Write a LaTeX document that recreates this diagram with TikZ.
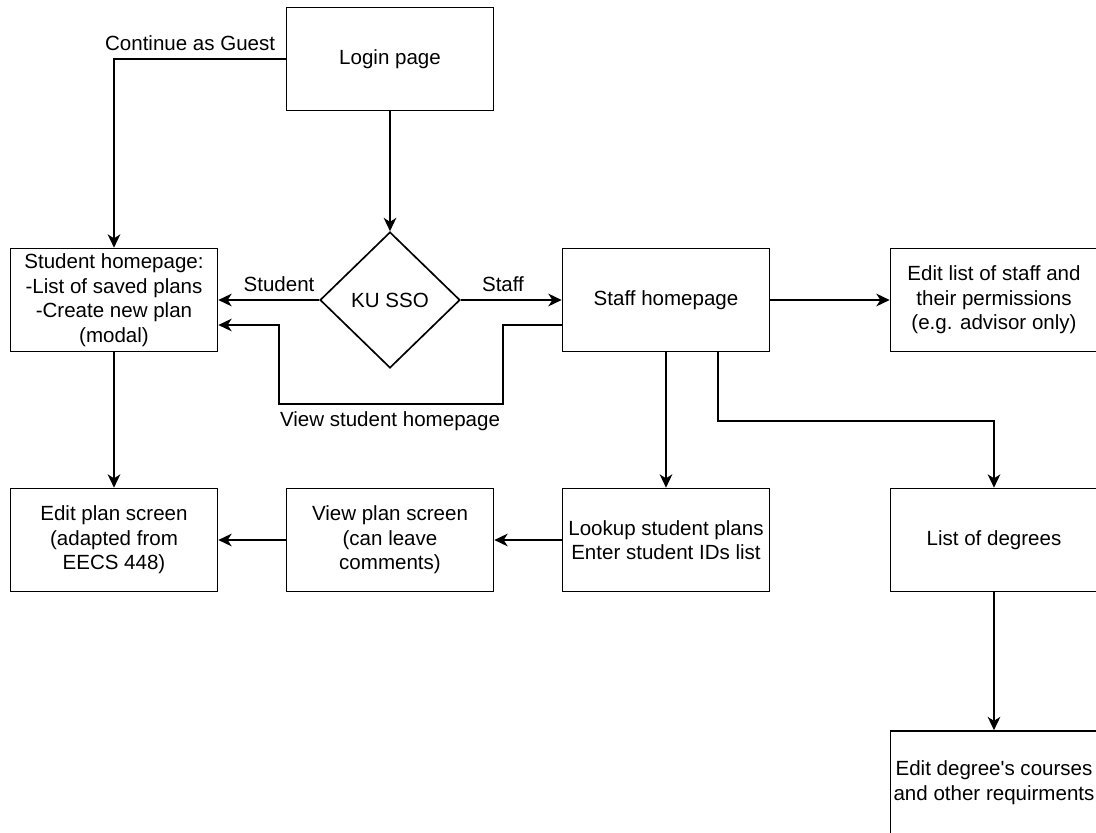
\documentclass[tikz,border=0pt]{standalone}
\usepackage{fontspec}
\setmainfont{Liberation Sans}
\usetikzlibrary{arrows.meta}
\usetikzlibrary{positioning, shapes.geometric}
\tikzset{
screen box/.style = { rectangle, draw = black, fill = white, line width = 1.25pt, minimum width = 155.25pt, minimum height = 77.25pt, inner sep = 0pt, align = center },
choice box/.style = { diamond, draw = black, fill = white, line width = 1.25pt, minimum width = 105pt, minimum height = 102pt, inner sep = 0pt },
flow label/.style = { draw = none, fill = none, inner sep = 0pt },
}

\begin{document}
\begin{tikzpicture}[x=0.75pt, y=-0.75pt, every node/.style={font=\fontsize{15.4pt}{18.4pt}\selectfont}]
      \useasboundingbox (0,0) rectangle (1096,832);
      \clip (0,0) rectangle (1096,832);
      \fill[white] (0,0) rectangle (1096,832);
      \begin{scope}
        \node[screen box] (login) at (390,59) {Login page};
        \node[choice box] (sso) at (390,300) {KU SSO};
        \node[screen box] (student) at (114,300) {Student homepage:\\-List of saved plans\\-Create new plan\\(modal)};
        \node[screen box] (staff) at (666,300) {Staff homepage};
        \node[screen box] (perms) at (994,300) {Edit list of staff and\\their permissions\\(e.g. advisor only)};
        \node[screen box] (editplan) at (114,540) {Edit plan screen\\(adapted from\\EECS 448)};
        \node[screen box] (viewplan) at (390,540) {View plan screen\\(can leave\\comments)};
        \node[screen box] (lookup) at (666,540) {Lookup student plans\\Enter student IDs list};
        \node[screen box] (degrees) at (994,540) {List of degrees};
        \node[screen box] (courses) at (994,782.5) {Edit degree\textquotesingle s courses\\and other requirments};
      \end{scope}
      \begin{scope}[>={Stealth[length=10pt, width=9.5pt, inset=3pt]}, line width=1.25pt]
        \draw[->] (login.west) -| (student.north);
        \node[flow label, anchor=east] (guest) at (276,43) {Continue as Guest};
        \draw[->] (login.south) -- (sso.north);
        \draw[->] (sso.west) -- (student.east);
        \node[flow label] (tostudent) at (279,284) {Student};
        \draw[->] (sso.east) -- (staff.west);
        \node[flow label] (tostaff) at (503,284) {Staff};
        % staff can open a student homepage
        \coordinate (viewa) at ([yshift=-18.75pt]staff.west);
        \coordinate (viewb) at ([yshift=-18.75pt]student.east);
        \draw[->] (viewa) -- (503,325) -- (503,404) -- (279,404) -- (279,325) -- (viewb);
        \node[flow label] (viewlabel) at (390,421) {View student homepage};
        \draw[->] (staff.east) -- (perms.west);
        \draw[->] (staff.south) -- (lookup.north);
        \coordinate (degreesout) at (718,351.5);
        \draw[->] (degreesout) -- (718,421) -| (degrees.north);
        \draw[->] (student.south) -- (editplan.north);
        \draw[->] (lookup.west) -- (viewplan.east);
        \draw[->] (viewplan.west) -- (editplan.east);
        \draw[->] (degrees.south) -- (courses.north);
      \end{scope}
    \end{tikzpicture}
\end{document}
